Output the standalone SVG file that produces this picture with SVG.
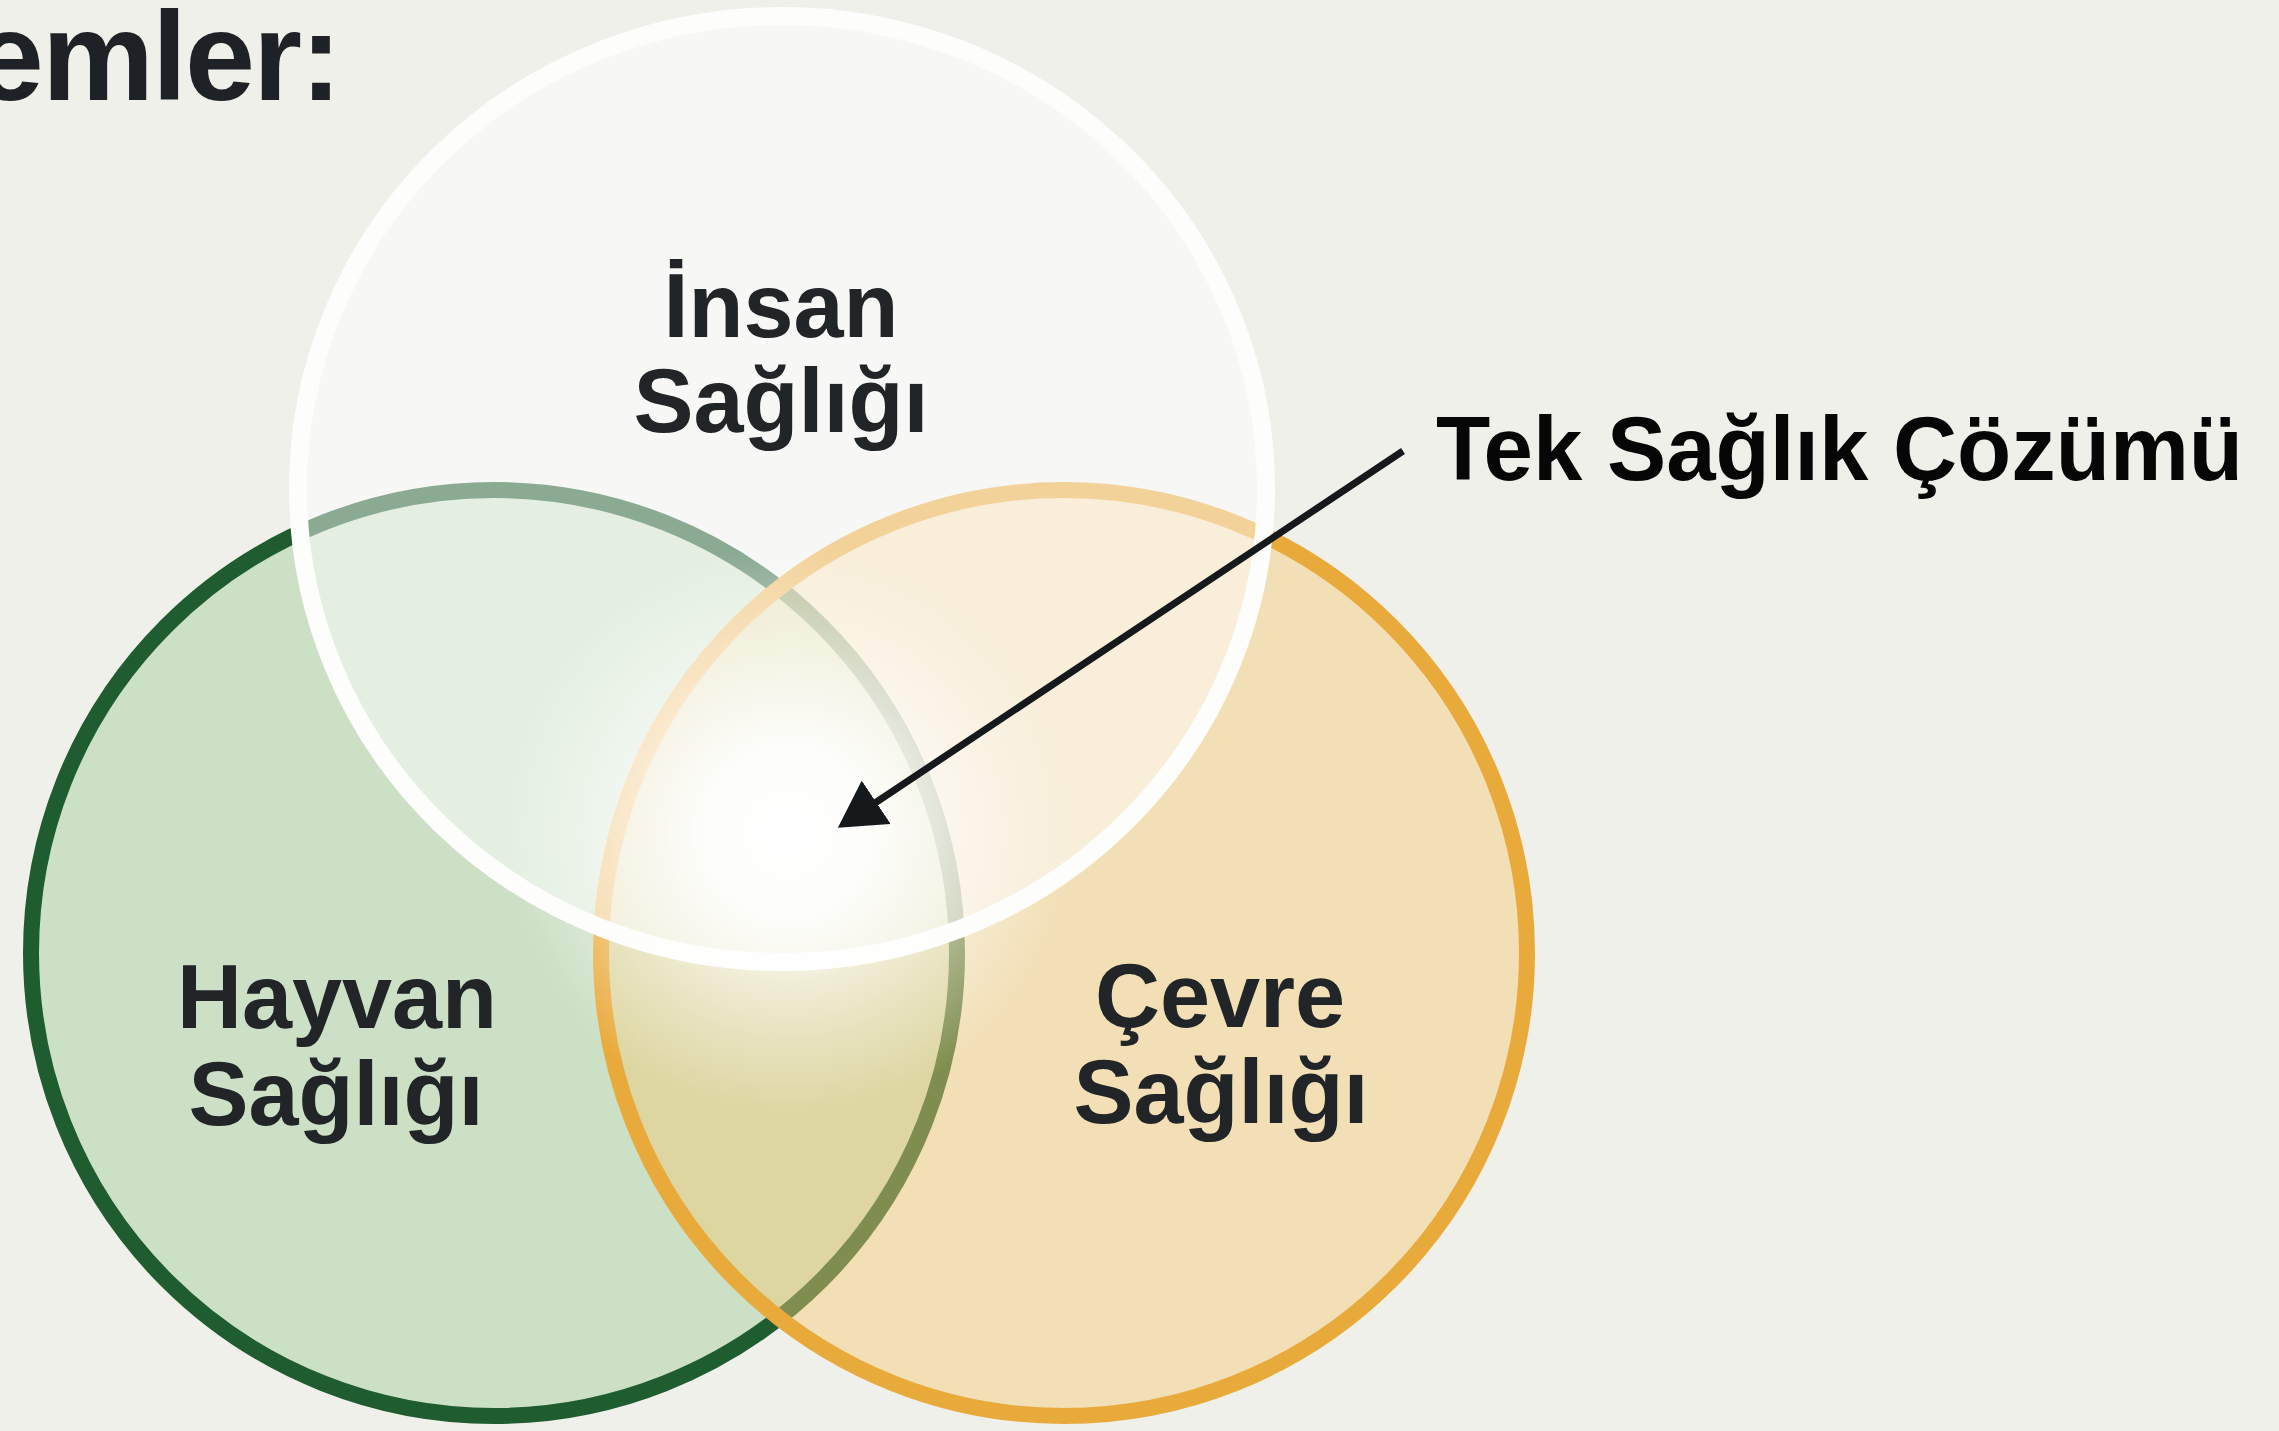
<svg xmlns="http://www.w3.org/2000/svg" width="2279" height="1431" viewBox="0 0 2279 1431">
  <style>
    .lbl { font-family: "Liberation Sans", Arial, sans-serif; font-weight: 700; font-size: 90px; fill: #212528; text-anchor: middle; }
    .ring { stroke-width: 16; }
  </style>
  <defs>
    <radialGradient id="glow" cx="0.5" cy="0.5" r="0.5">
      <stop offset="0" stop-color="#ffffff" stop-opacity="1"/>
      <stop offset="0.3" stop-color="#ffffff" stop-opacity="0.9"/>
      <stop offset="0.65" stop-color="#ffffff" stop-opacity="0.4"/>
      <stop offset="1" stop-color="#ffffff" stop-opacity="0"/>
    </radialGradient>
    <marker id="arrowhead" viewBox="0 0 46 52" refX="19.4" refY="26" markerWidth="46" markerHeight="52" markerUnits="userSpaceOnUse" orient="auto">
      <path d="M0,0 L46,26 L0,52 Z" fill="#15191c"/>
    </marker>
  </defs>

  <rect x="0" y="0" width="2279" height="1431" fill="#f0f0eb"/>

  <g id="title">
    <text x="340" y="100" font-family="Liberation Sans, Arial, sans-serif" font-weight="700" font-size="126" fill="#1e2226" text-anchor="end" letter-spacing="-2">emler:</text>
  </g>

  <g id="node-hayvan">
    <circle class="ring" cx="494" cy="953" r="463" fill="#cbe0c5" stroke="#1f5c2f"/>
  </g>
  <g id="node-cevre">
    <circle class="ring" cx="1064" cy="953" r="463" fill="rgb(244,202,117)" fill-opacity="0.45" stroke="#e9aa3c"/>
  </g>
  <g id="node-insan">
    <ellipse cx="782" cy="489" rx="484" ry="473" fill="#ffffff" fill-opacity="0.48" stroke="#fdfdfb" stroke-width="18"/>
  </g>

  <circle id="center-glow" cx="788" cy="832" r="285" fill="url(#glow)"/>

  <g id="labels">
    <text class="lbl" x="781" y="337">İnsan</text>
    <text class="lbl" x="781" y="432">Sağlığı</text>
    <text class="lbl" x="337" y="1028">Hayvan</text>
    <text class="lbl" x="336" y="1125">Sağlığı</text>
    <text class="lbl" x="1220" y="1027">Çevre</text>
    <text class="lbl" x="1221" y="1123">Sağlığı</text>
  </g>

  <g id="connectors">
    <line x1="1403" y1="451" x2="860" y2="813" stroke="#15191c" stroke-width="7" marker-end="url(#arrowhead)"/>
  </g>

  <g id="annotation">
    <text x="1436" y="480" font-family="Liberation Sans, Arial, sans-serif" font-weight="700" font-size="91" fill="#060606" textLength="807" lengthAdjust="spacingAndGlyphs">Tek Sağlık Çözümü</text>
  </g>
</svg>
